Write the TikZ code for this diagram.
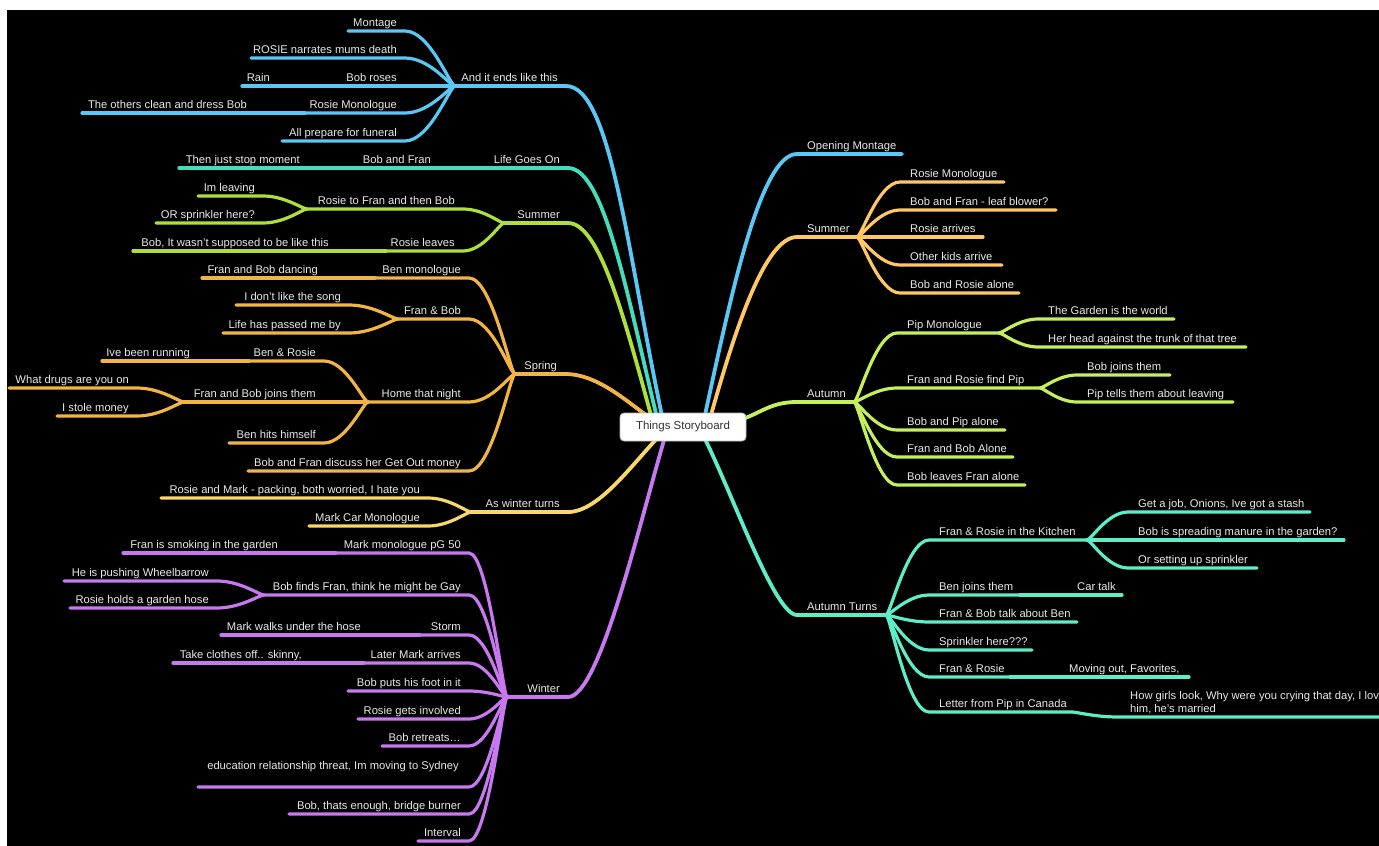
\documentclass[tikz,border=0pt]{standalone}
\usepackage{fontspec}
\setmainfont{Liberation Sans}
\usetikzlibrary{calc}
\definecolor{blueC}{HTML}{5AC8F5}
\definecolor{tealC}{HTML}{44DDBB}
\definecolor{greenC}{HTML}{AEE03C}
\definecolor{orangeC}{HTML}{F2B544}
\definecolor{yellowC}{HTML}{F8D868}
\definecolor{purpleC}{HTML}{C878F0}
\definecolor{peachC}{HTML}{FFC766}
\definecolor{limeC}{HTML}{C5EF5B}
\definecolor{aquaC}{HTML}{5EEDC6}
\definecolor{txtC}{HTML}{E8E8E8}
\colorlet{bc}{blueC}
\tikzset{
  txtlbl/.style={text=txtC, font=\fontsize{11.2}{13}\selectfont, inner sep=0pt},
  branchline/.style={draw=bc, line width=3.2pt, line cap=round},
  mainline/.style={draw=bc, line width=3.8pt, line cap=round},
}
% left-side item: name, parent coordinate, x left, x right, y, text
\newcommand\leftitem[6]{%
  \coordinate (#1L) at (#3,#5);
  \coordinate (#1R) at (#4,#5);
  \node[txtlbl, anchor=base east] (#1) at ($(#1R)+(-8,-5)$) {#6};
  \draw[branchline] (#2) .. controls ($(#2)!0.1!(#1R|-#2)$) and ($(#1R)!0.5!(#2|-#1R)$) .. (#1R) -- (#1L);
}
% right-side item
\newcommand\rightitem[6]{%
  \coordinate (#1L) at (#3,#5);
  \coordinate (#1R) at (#4,#5);
  \node[txtlbl, anchor=base west] (#1) at ($(#1L)+(10,-5)$) {#6};
  \draw[branchline] (#2) .. controls ($(#2)!0.1!(#1L|-#2)$) and ($(#1L)!0.5!(#2|-#1L)$) .. (#1L) -- (#1R);
}
\begin{document}
\begin{tikzpicture}[x=1pt,y=-1pt]
\clip (0,0) rectangle (1379,846);
\fill[white] (0,0) rectangle (1379,846);
\fill[black] (7,10) rectangle (1379,846);
\coordinate (O) at (683,427);

% ===== LEFT: And it ends like this =====
\begin{scope}
\colorlet{bc}{blueC}
\coordinate (A0L) at (455,86); \coordinate (A0R) at (566,86);
\node[txtlbl, anchor=base east] (A0) at ($(A0R)+(-8,-5)$) {And it ends like this};
\draw[mainline] (A0L) -- (A0R) .. controls (612,86) and (628,260) .. ($(O)+(-18,3)$);
\leftitem{A1}{A0L}{348}{405}{31}{Montage}
\leftitem{A2}{A0L}{251}{405}{58}{ROSIE narrates mums death}
\leftitem{A3}{A0L}{341}{405}{86}{Bob roses}
\leftitem{A3a}{A3L}{242}{278}{86}{Rain}
\leftitem{A4}{A0L}{305}{405}{113}{Rosie Monologue}
\leftitem{A4a}{A4L}{82}{255}{113}{The others clean and dress Bob}
\leftitem{A5}{A0L}{282}{405}{141}{All prepare for funeral}
\end{scope}

% ===== LEFT: Life Goes On =====
\begin{scope}
\colorlet{bc}{tealC}
\coordinate (L0L) at (489,168); \coordinate (L0R) at (568,168);
\node[txtlbl, anchor=base east] (L0) at ($(L0R)+(-8,-5)$) {Life Goes On};
\draw[mainline] (L0L) -- (L0R) .. controls (605,168) and (628,300) .. ($(O)+(-23,3)$);
\leftitem{L1}{L0L}{357}{439}{168}{Bob and Fran}
\leftitem{L2}{L1L}{179}{308}{168}{Then just stop moment}
\end{scope}

% ===== LEFT: Summer =====
\begin{scope}
\colorlet{bc}{greenC}
\coordinate (S0L) at (504,223); \coordinate (S0R) at (568,223);
\node[txtlbl, anchor=base east] (S0) at ($(S0R)+(-8,-5)$) {Summer};
\draw[mainline] (S0L) -- (S0R) .. controls (600,223) and (625,320) .. ($(O)+(-28,3)$);
\leftitem{S1}{S0L}{307}{463}{209}{Rosie to Fran and then Bob}
\leftitem{S1a}{S1L}{198}{263}{196}{Im leaving}
\leftitem{S1b}{S1L}{156}{263}{223}{OR sprinkler here?}
\leftitem{S2}{S0L}{386}{463}{251}{Rosie leaves}
\leftitem{S2a}{S2L}{133}{337}{251}{Bob, It wasn’t supposed to be like this}
\end{scope}

% ===== LEFT: Spring =====
\begin{scope}
\colorlet{bc}{orangeC}
\coordinate (P0L) at (515,374); \coordinate (P0R) at (565,374);
\node[txtlbl, anchor=base east] (P0) at ($(P0R)+(-8,-5)$) {Spring};
\draw[mainline] (P0L) -- (P0R) .. controls (600,374) and (630,405) .. ($(O)+(-23,-2)$);
\leftitem{P1}{P0L}{375}{469}{278}{Ben monologue}
\leftitem{P1a}{P1L}{202}{326}{278}{Fran and Bob dancing}
\leftitem{P2}{P0L}{398}{469}{319}{Fran \& Bob}
\leftitem{P2a}{P2L}{236}{349}{305}{I don’t like the song}
\leftitem{P2b}{P2L}{223}{349}{333}{Life has passed me by}
\leftitem{P3}{P0L}{368}{469}{402}{Home that night}
\leftitem{P3a}{P3L}{249}{324}{361}{Ben \& Rosie}
\leftitem{P3aa}{P3aL}{102}{198}{361}{Ive been running}
\leftitem{P3b}{P3L}{184}{324}{402}{Fran and Bob joins them}
\leftitem{P3ba}{P3bL}{9}{137}{388}{What drugs are you on}
\leftitem{P3bb}{P3bL}{57}{137}{416}{I stole money}
\leftitem{P3c}{P3L}{229}{324}{443}{Ben hits himself}
\leftitem{P4}{P0L}{248}{469}{471}{Bob and Fran discuss her Get Out money}
\end{scope}

% ===== LEFT: As winter turns =====
\begin{scope}
\colorlet{bc}{yellowC}
\coordinate (W0L) at (471,512); \coordinate (W0R) at (568,512);
\node[txtlbl, anchor=base east] (W0) at ($(W0R)+(-8,-5)$) {As winter turns};
\draw[mainline] (W0L) -- (W0R) .. controls (600,512) and (635,460) .. ($(O)+(-18,3)$);
\leftitem{W1}{W0L}{161}{428}{498}{Rosie and Mark - packing, both worried, I hate you}
\leftitem{W2}{W0L}{309}{428}{526}{Mark Car Monologue}
\end{scope}

% ===== LEFT: Winter =====
\begin{scope}
\colorlet{bc}{purpleC}
\coordinate (V0L) at (507,697); \coordinate (V0R) at (568,697);
\node[txtlbl, anchor=base east] (V0) at ($(V0R)+(-8,-5)$) {Winter};
\draw[mainline] (V0L) -- (V0R) .. controls (600,697) and (640,520) .. ($(O)+(-16,3)$);
\leftitem{V1}{V0L}{336}{469}{553}{Mark monologue pG 50}
\leftitem{V1a}{V1L}{123}{286}{553}{Fran is smoking in the garden}
\leftitem{V2}{V0L}{264}{469}{595}{Bob finds Fran, think he might be Gay}
\leftitem{V2a}{V2L}{64}{217}{581}{He is pushing Wheelbarrow}
\leftitem{V2b}{V2L}{70}{217}{608}{Rosie holds a garden hose}
\leftitem{V3}{V0L}{420}{469}{635}{Storm}
\leftitem{V3a}{V3L}{221}{369}{635}{Mark walks under the hose}
\leftitem{V4}{V0L}{364}{469}{663}{Later Mark arrives}
\leftitem{V4a}{V4L}{173}{310}{663}{Take clothes off.. skinny,}
\leftitem{V5}{V0L}{348}{469}{691}{Bob puts his foot in it}
\leftitem{V6}{V0L}{358}{469}{719}{Rosie gets involved}
\leftitem{V7}{V0L}{382}{469}{746}{Bob retreats…}
\coordinate (V8L) at (198,787); \coordinate (V8R) at (469,787);
\node[txtlbl, anchor=base east] (V8) at (459,769) {education relationship threat, Im moving to Sydney};
\draw[branchline] (V0L) .. controls ($(V0L)!0.1!(V8R|-V0L)$) and ($(V8R)!0.5!(V0L|-V8R)$) .. (V8R) -- (V8L);
\leftitem{V9}{V0L}{289}{469}{814}{Bob, thats enough, bridge burner}
\leftitem{V10}{V0L}{418}{469}{841}{Interval}
\end{scope}

% ===== RIGHT: Opening Montage =====
\begin{scope}
\colorlet{bc}{blueC}
\coordinate (R1L) at (797,154); \coordinate (R1R) at (902,154);
\node[txtlbl, anchor=base west] (R1) at ($(R1L)+(10,-5)$) {Opening Montage};
\draw[mainline] ($(O)+(22,-12)$) .. controls (730,300) and (760,154) .. (R1L) -- (R1R);
\end{scope}

% ===== RIGHT: Summer =====
\begin{scope}
\colorlet{bc}{peachC}
\coordinate (R2L) at (797,237); \coordinate (R2R) at (857,237);
\node[txtlbl, anchor=base west] (R2) at ($(R2L)+(10,-5)$) {Summer};
\draw[mainline] ($(O)+(28,-12)$) .. controls (735,330) and (765,237) .. (R2L) -- (R2R);
\rightitem{R2a}{R2R}{900}{1004}{182}{Rosie Monologue}
\rightitem{R2b}{R2R}{900}{1056}{210}{Bob and Fran - leaf blower?}
\rightitem{R2c}{R2R}{900}{983}{237}{Rosie arrives}
\rightitem{R2d}{R2R}{900}{1002}{265}{Other kids arrive}
\rightitem{R2e}{R2R}{900}{1019}{293}{Bob and Rosie alone}
\end{scope}

% ===== RIGHT: Autumn =====
\begin{scope}
\colorlet{bc}{limeC}
\coordinate (R3L) at (797,402); \coordinate (R3R) at (854,402);
\node[txtlbl, anchor=base west] (R3) at ($(R3L)+(10,-5)$) {Autumn};
\draw[mainline] ($(O)+(50,-5)$) .. controls (760,415) and (768,402) .. (R3L) -- (R3R);
\rightitem{R3a}{R3R}{897}{999}{333}{Pip Monologue}
\rightitem{R3aa}{R3aR}{1038}{1174}{319}{The Garden is the world}
\rightitem{R3ab}{R3aR}{1038}{1246}{347}{Her head against the trunk of that tree}
\rightitem{R3b}{R3R}{897}{1040}{388}{Fran and Rosie find Pip}
\rightitem{R3ba}{R3bR}{1077}{1170}{375}{Bob joins them}
\rightitem{R3bb}{R3bR}{1077}{1233}{402}{Pip tells them about leaving}
\rightitem{R3c}{R3R}{897}{1005}{430}{Bob and Pip alone}
\rightitem{R3d}{R3R}{897}{1013}{457}{Fran and Bob Alone}
\rightitem{R3e}{R3R}{897}{1025}{485}{Bob leaves Fran alone}
\end{scope}

% ===== RIGHT: Autumn Turns =====
\begin{scope}
\colorlet{bc}{aquaC}
\coordinate (R4L) at (797,615); \coordinate (R4R) at (886,615);
\node[txtlbl, anchor=base west] (R4) at ($(R4L)+(10,-5)$) {Autumn Turns};
\draw[mainline] ($(O)+(22,12)$) .. controls (735,500) and (775,615) .. (R4L) -- (R4R);
\rightitem{R4a}{R4R}{929}{1087}{540}{Fran \& Rosie in the Kitchen}
\rightitem{R4aa}{R4aR}{1128}{1310}{512}{Get a job, Onions, Ive got a stash}
\rightitem{R4ab}{R4aR}{1128}{1344}{540}{Bob is spreading manure in the garden?}
\rightitem{R4ac}{R4aR}{1128}{1257}{568}{Or setting up sprinkler}
\rightitem{R4b}{R4R}{929}{1020}{595}{Ben joins them}
\rightitem{R4ba}{R4bR}{1067}{1122}{595}{Car talk}
\rightitem{R4c}{R4R}{929}{1077}{622}{Fran \& Bob talk about Ben}
\rightitem{R4d}{R4R}{929}{1032}{650}{Sprinkler here???}
\rightitem{R4e}{R4R}{929}{1010}{677}{Fran \& Rosie}
\rightitem{R4ea}{R4eR}{1059}{1189}{677}{Moving out, Favorites,}
\rightitem{R4f}{R4R}{929}{1072}{712}{Letter from Pip in Canada}
\coordinate (R4faL) at (1118,717); \coordinate (R4faR) at (1395,717);
\node[txtlbl, anchor=south west, align=left] (R4fa) at (1130,714) {How girls look, Why were you crying that day, I lov\\him, he’s married};
\draw[branchline] (R4fR) .. controls ($(R4fR)!0.1!(R4faL|-R4fR)$) and ($(R4faL)!0.5!(R4fR|-R4faL)$) .. (R4faL) -- (R4faR);
\end{scope}

% ===== centre =====
\node[draw=gray!55, line width=0.8pt, fill=white, rounded corners=4pt, minimum width=126pt, minimum height=28pt, text=black!80, font=\fontsize{11.5}{13}\selectfont] (C) at (O) {Things Storyboard};
\end{tikzpicture}
\end{document}
